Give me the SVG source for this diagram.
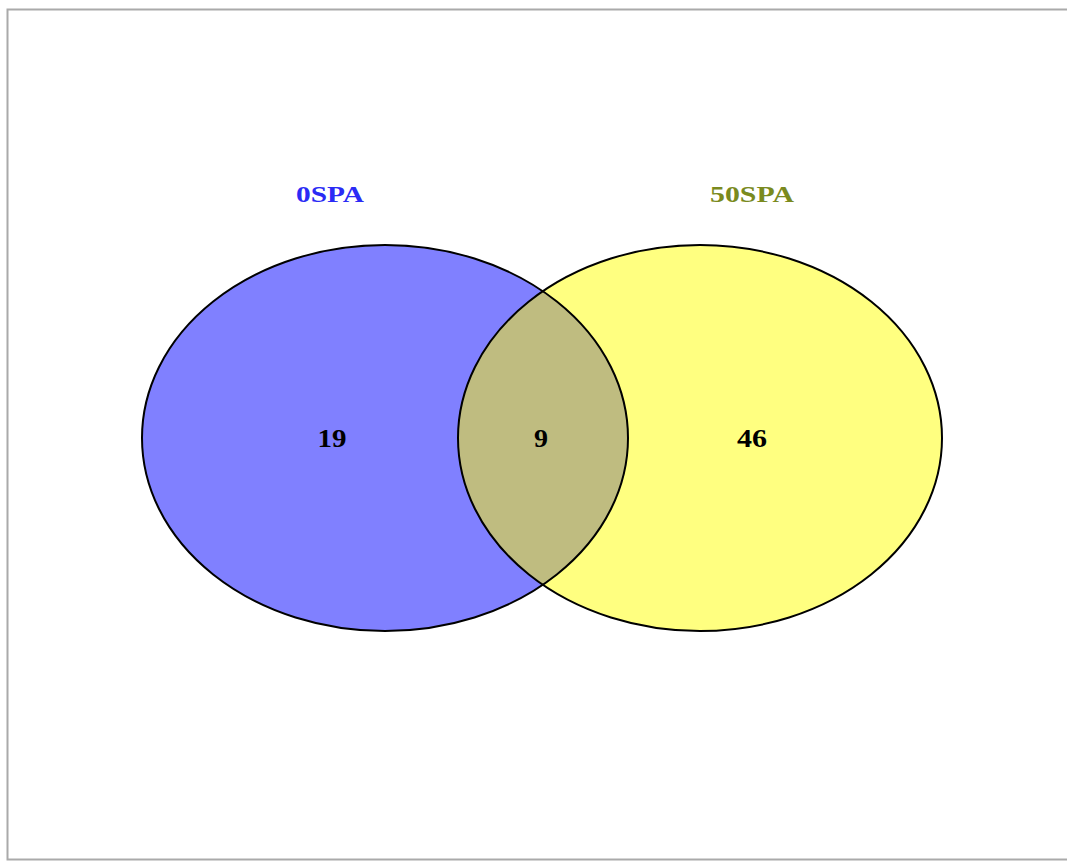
<svg xmlns="http://www.w3.org/2000/svg" width="1067" height="863" viewBox="0 0 1067 863">
<style>
.lbl{font-family:"Liberation Serif",serif;font-weight:bold;font-size:23px;text-anchor:middle}
.num{font-family:"Liberation Serif",serif;font-weight:bold;font-size:25px;text-anchor:middle;fill:#000}
.edge{fill:none;stroke:#000;stroke-width:2}
</style>
<defs>
<clipPath id="clipL"><ellipse cx="385" cy="438" rx="243" ry="193"/></clipPath>
</defs>
<rect width="1067" height="863" fill="#fff"/>
<rect x="7.5" y="9.5" width="1070" height="850" fill="none" stroke="#aaa" stroke-width="2"/>
<g id="set-0SPA">
<ellipse cx="385" cy="438" rx="243" ry="193" fill="#8080ff"/>
<text class="lbl" x="330" y="202" fill="#2b2bf5" textLength="68" lengthAdjust="spacingAndGlyphs">0SPA</text>
</g>
<g id="set-50SPA">
<ellipse cx="700" cy="438" rx="242" ry="193" fill="#ffff80"/>
<text class="lbl" x="752" y="202" fill="#7a8a1e" textLength="84" lengthAdjust="spacingAndGlyphs">50SPA</text>
</g>
<g id="overlap">
<ellipse cx="700" cy="438" rx="242" ry="193" fill="#bfbc80" clip-path="url(#clipL)"/>
</g>
<g id="outlines">
<ellipse class="edge" cx="385" cy="438" rx="243" ry="193"/>
<ellipse class="edge" cx="700" cy="438" rx="242" ry="193"/>
</g>
<g id="counts">
<text class="num" x="332" y="447" textLength="29" lengthAdjust="spacingAndGlyphs">19</text>
<text class="num" x="541" y="447" textLength="14" lengthAdjust="spacingAndGlyphs">9</text>
<text class="num" x="752" y="447" textLength="30" lengthAdjust="spacingAndGlyphs">46</text>
</g>
</svg>
